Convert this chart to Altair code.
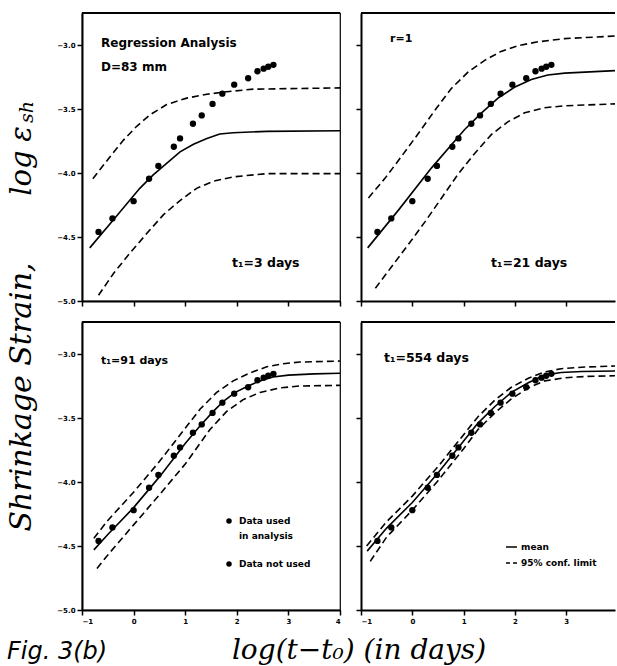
import altair as alt
import pandas as pd

# observed shrinkage data (same specimen in all four panels)
obs_x = [-0.68, -0.41, 0.00, 0.30, 0.48, 0.78, 0.90, 1.15, 1.32, 1.53, 1.72, 1.95, 2.22, 2.40, 2.52, 2.61, 2.71]
obs_y = [-4.46, -4.355, -4.22, -4.045, -3.945, -3.795, -3.73, -3.615, -3.55, -3.46, -3.38, -3.31, -3.26, -3.205, -3.185, -3.17, -3.155]

# t1 = 3 days
tl_mean_x = [-0.85, -0.39, 0.12, 0.38, 0.64, 0.90, 1.16, 1.42, 1.67, 1.93, 2.58, 4.0]
tl_mean_y = [-4.585, -4.365, -4.12, -4.015, -3.925, -3.835, -3.775, -3.73, -3.695, -3.685, -3.675, -3.67]
tl_up_x = [-0.79, -0.46, -0.20, 0.06, 0.32, 0.64, 1.03, 1.42, 1.80, 2.32, 4.0]
tl_up_y = [-4.045, -3.875, -3.745, -3.635, -3.545, -3.465, -3.415, -3.385, -3.365, -3.345, -3.335]
tl_lo_x = [-0.68, -0.39, -0.07, 0.25, 0.58, 0.90, 1.22, 1.54, 1.93, 2.58, 4.0]
tl_lo_y = [-4.955, -4.785, -4.625, -4.475, -4.325, -4.215, -4.12, -4.065, -4.03, -4.005, -4.005]

# t1 = 21 days
tr_mean_x = [-0.87, -0.27, 0.375, 1.02, 1.35, 1.67, 1.99, 2.32, 2.64, 2.97, 3.95]
tr_mean_y = [-4.585, -4.29, -3.96, -3.66, -3.53, -3.415, -3.33, -3.27, -3.235, -3.22, -3.20]
tr_up_x = [-0.855, -0.53, -0.21, 0.12, 0.44, 0.76, 1.09, 1.41, 1.73, 2.06, 2.45, 2.97, 3.95]
tr_up_y = [-4.195, -4.04, -3.87, -3.69, -3.51, -3.34, -3.21, -3.12, -3.05, -3.005, -2.975, -2.95, -2.93]
tr_lo_x = [-0.72, -0.40, -0.08, 0.25, 0.57, 0.89, 1.22, 1.54, 1.86, 2.19, 2.58, 2.97, 3.95]
tr_lo_y = [-4.90, -4.73, -4.56, -4.38, -4.195, -4.01, -3.845, -3.70, -3.60, -3.53, -3.49, -3.475, -3.46]

# t1 = 91 days
bl_mean_x = [-0.77, -0.5, 0.0, 0.5, 1.0, 1.29, 1.54, 1.74, 1.97, 2.22, 2.45, 2.7, 3.0, 3.5, 4.0]
bl_mean_y = [-4.53, -4.41, -4.20, -3.96, -3.70, -3.56, -3.45, -3.37, -3.30, -3.25, -3.21, -3.18, -3.165, -3.155, -3.15]
bl_up_x = [-0.77, -0.5, 0.0, 0.5, 1.0, 1.29, 1.61, 1.93, 2.26, 2.58, 2.9, 3.22, 4.0]
bl_up_y = [-4.44, -4.30, -4.08, -3.84, -3.58, -3.43, -3.30, -3.21, -3.147, -3.10, -3.076, -3.063, -3.055]
bl_lo_x = [-0.71, -0.5, 0.0, 0.5, 1.0, 1.48, 1.80, 2.13, 2.45, 2.84, 3.22, 4.0]
bl_lo_y = [-4.675, -4.57, -4.335, -4.10, -3.86, -3.59, -3.45, -3.355, -3.30, -3.265, -3.25, -3.245]

# t1 = 554 days
br_mean_x = [-0.88, -0.5, 0.0, 0.5, 1.0, 1.28, 1.61, 1.93, 2.26, 2.58, 2.9, 3.3, 3.95]
br_mean_y = [-4.54, -4.36, -4.16, -3.93, -3.68, -3.54, -3.41, -3.30, -3.225, -3.165, -3.145, -3.137, -3.133]
br_up_x = [-0.89, -0.5, 0.0, 0.5, 1.0, 1.28, 1.61, 1.93, 2.26, 2.58, 2.9, 3.3, 3.95]
br_up_y = [-4.50, -4.31, -4.11, -3.88, -3.63, -3.49, -3.36, -3.26, -3.19, -3.14, -3.115, -3.103, -3.094]
br_lo_x = [-0.82, -0.5, 0.0, 0.5, 1.0, 1.28, 1.61, 1.93, 2.26, 2.58, 2.97, 3.4, 3.95]
br_lo_y = [-4.62, -4.43, -4.22, -3.99, -3.74, -3.59, -3.46, -3.35, -3.265, -3.21, -3.186, -3.175, -3.17]

y_ticks = [-5.0, -4.5, -4.0, -3.5, -3.0]
x_ticks_left = [-1, 0, 1, 2, 3, 4]
x_ticks_right = [-1, 0, 1, 2, 3]

W_L, W_R, H = 258, 254, 288
DASH = [7, 4]
LBL = "DejaVu Sans"
SERIF = "DejaVu Serif"


def one():
    return pd.DataFrame({"a": [0]})


def txt(s, px, py, size=11, align="left", font=LBL, style="normal", weight="bold", angle=0):
    kw = dict(text=s, align=align, baseline="middle", font=font, fontSize=size,
              fontStyle=style, fontWeight=weight, color="black")
    if angle:
        kw["angle"] = angle
    return alt.Chart(one()).mark_text(**kw).encode(x=alt.value(px), y=alt.value(py))


def ytitle(s, px, py, size):
    return txt(s, px, py, size=size, align="center", font=SERIF, style="italic",
               weight="normal", angle=270)


def panel(curves, texts, xdom, xvals, width, xlabels, ylabels, extra=None, left=True):
    X = alt.X("x:Q", scale=alt.Scale(domain=xdom, nice=False, zero=False),
              axis=alt.Axis(values=xvals, labels=xlabels, format="d", title=None))
    Y = alt.Y("y:Q", scale=alt.Scale(domain=[-5.0, -2.75], nice=False, zero=False),
              axis=alt.Axis(values=y_ticks, labels=ylabels, format=".1f", title=None))
    layers = []
    for xs, ys, dashed in curves:
        df = pd.DataFrame({"x": xs, "y": ys})
        kw = dict(color="black", strokeWidth=1.6, clip=True)
        if dashed:
            kw["strokeDash"] = DASH
        layers.append(alt.Chart(df).mark_line(**kw).encode(x=X, y=Y))
    pts = pd.DataFrame({"x": obs_x, "y": obs_y})
    layers.append(alt.Chart(pts).mark_circle(size=40, color="black", opacity=1).encode(x=X, y=Y))
    layers.append(alt.Chart(one()).mark_rule(color="black", strokeWidth=2).encode(
        x=alt.value(0), x2=alt.value(width), y=alt.value(0)))
    layers += texts
    if extra:
        layers += extra
    ch = alt.layer(*layers).properties(width=width, height=H)
    if left:
        ch = ch.properties(view=alt.ViewBackground(stroke="black", strokeWidth=1.2))
    else:
        ch = ch.properties(view=alt.ViewBackground(stroke=None))
    return ch


tl = panel(
    [(tl_up_x, tl_up_y, True), (tl_lo_x, tl_lo_y, True), (tl_mean_x, tl_mean_y, False)],
    [txt("Regression Analysis", 19, 30, size=12), txt("D=83 mm", 19, 54, size=12),
     txt("t₁=3  days", 150, 250, size=12.5),
     ytitle("Shrinkage Strain,", -60, 384, 30),
     ytitle("log", -60, 160, 29),
     ytitle("ε", -60, 121, 29),
     ytitle("sh", -55, 99, 19)],
    [-1, 4], x_ticks_left, W_L, False, True)

tr = panel(
    [(tr_up_x, tr_up_y, True), (tr_lo_x, tr_lo_y, True), (tr_mean_x, tr_mean_y, False)],
    [txt("r=1", 29, 26), txt("t₁=21  days", 130, 250, size=12.5)],
    [-1, 3.95], x_ticks_right, W_R, False, False, left=False)

bl_extra = [
    alt.Chart(one()).mark_circle(size=30, color="black", opacity=1).encode(x=alt.value(147), y=alt.value(199)),
    alt.Chart(one()).mark_circle(size=30, color="black", opacity=1).encode(x=alt.value(147), y=alt.value(242)),
]
bl = panel(
    [(bl_up_x, bl_up_y, True), (bl_lo_x, bl_lo_y, True), (bl_mean_x, bl_mean_y, False)],
    [txt("t₁=91  days", 19, 39),
     txt("Data used", 157, 199, size=9), txt("in analysis", 157, 214, size=9),
     txt("Data not used", 157, 242, size=9),
     txt("Fig. 3(b)", -75, 330, size=24, font=LBL, style="italic", weight="normal")],
    [-1, 4], x_ticks_left, W_L, True, True, extra=bl_extra)

br_extra = [
    alt.Chart(one()).mark_rule(color="black", strokeWidth=1.5).encode(
        x=alt.value(145), x2=alt.value(156), y=alt.value(225)),
    alt.Chart(one()).mark_rule(color="black", strokeWidth=1.5, strokeDash=[4, 3]).encode(
        x=alt.value(145), x2=alt.value(157), y=alt.value(241)),
]
br = panel(
    [(br_up_x, br_up_y, True), (br_lo_x, br_lo_y, True), (br_mean_x, br_mean_y, False)],
    [txt("t₁=554  days", 23, 36, size=12.5),
     txt("mean", 160, 225, size=9), txt("95% conf. limit", 160, 241, size=9),
     txt("log(t−t₀) (in days)", -2, 329, size=28, align="center", font=SERIF,
         style="italic", weight="normal")],
    [-1, 3.95], x_ticks_right, W_R, True, False, extra=br_extra, left=False)

chart = alt.concat(tl, tr, bl, br, columns=2, spacing=21, bounds="flush").properties(
    padding={"left": 6, "top": 11, "right": 0, "bottom": 0},
    background="white",
).configure_view(stroke=None).configure_axis(
    domainColor="black", domainWidth=2, tickColor="black", tickWidth=1.5, tickSize=5,
    labelColor="black", labelFont=LBL, labelFontSize=7, labelFontWeight="bold",
    labelPadding=2, grid=False,
)

chart.save("out.html", embed_options={"renderer": "svg", "actions": False})
